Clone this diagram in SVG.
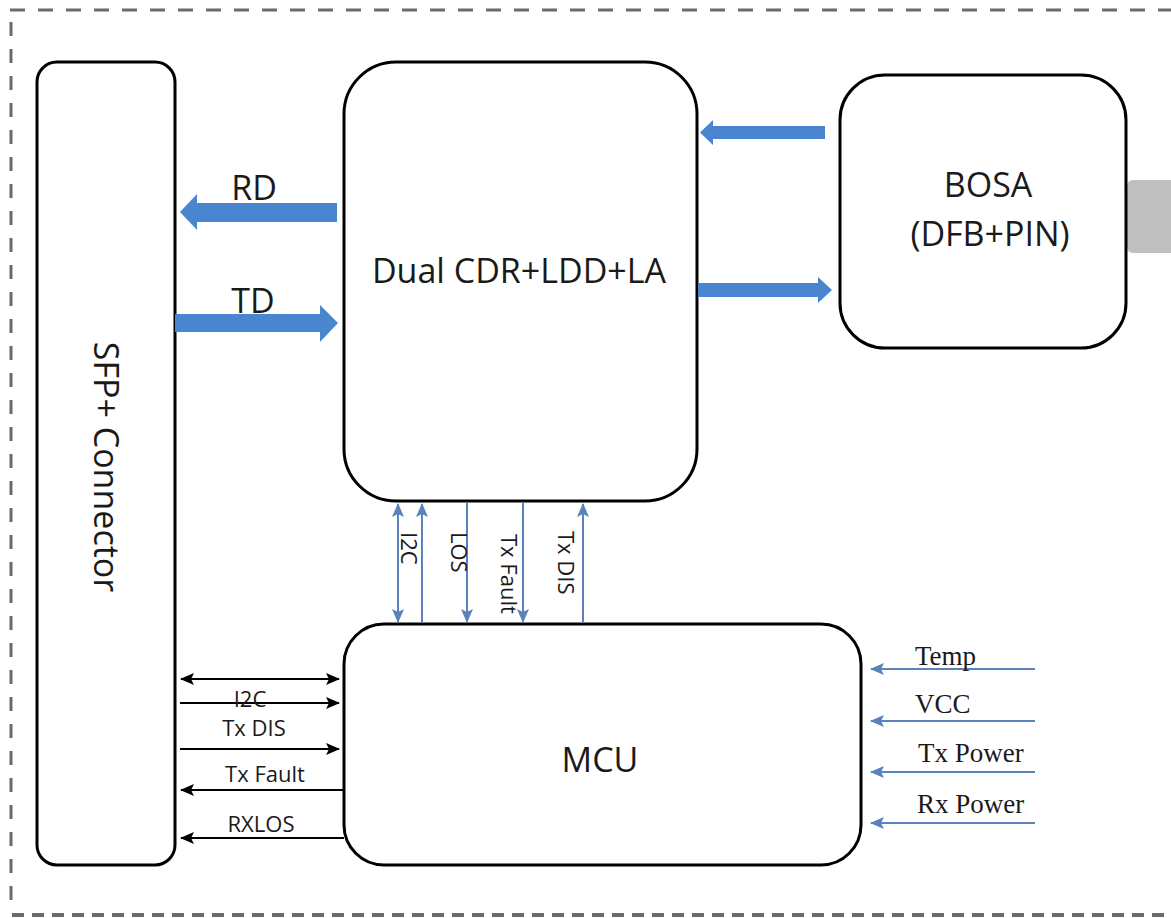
<svg xmlns="http://www.w3.org/2000/svg" width="1171" height="918" viewBox="0 0 1171 918">
<style>
.box{fill:#fff;stroke:#000;stroke-width:3}
.lbl{font-family:"Open Sans","DejaVu Sans",sans-serif;fill:#1a1a1a}
.big{font-size:34px}
.sm{font-size:22px}
.ser{font-family:"Liberation Serif","Times New Roman",serif;fill:#1a1a1a;font-size:27px}
.thick{fill:#4a86cf}
.bl{stroke:#000;stroke-width:2;fill:none}
.sb{stroke:#5a82bb;stroke-width:2;fill:none}
.border{stroke:#6b6b6b;fill:none}
</style>
<defs>
<marker id="ak" markerUnits="userSpaceOnUse" markerWidth="14" markerHeight="12" refX="13" refY="6" orient="auto-start-reverse">
<path d="M0,0 L14,6 L0,12 L3,6 z" fill="#000"/>
</marker>
<marker id="ab" markerUnits="userSpaceOnUse" markerWidth="14" markerHeight="12" refX="13" refY="6" orient="auto-start-reverse">
<path d="M0,0 L14,6 L0,12 L3,6 z" fill="#5a82bb"/>
</marker>
</defs>
<rect width="1171" height="918" fill="#fff"/>
<g id="border">
<line class="border" x1="10" y1="10" x2="1171" y2="10" stroke-width="3" stroke-dasharray="15 13"/>
<line class="border" x1="11" y1="22" x2="11" y2="905" stroke-width="3" stroke-dasharray="14 13"/>
<line class="border" x1="12" y1="915" x2="1171" y2="915" stroke-width="4" stroke-dasharray="12 8"/>
</g>
<g id="sfp">
<rect class="box" x="37" y="62" width="138" height="803" rx="20"/>
<text class="lbl" font-size="34" transform="translate(94,467) rotate(90)" text-anchor="middle">SFP+ Connector</text>
</g>
<g id="cdr">
<rect class="box" x="344" y="62" width="353" height="439" rx="52"/>
<text class="lbl big" x="519" y="283" text-anchor="middle">Dual CDR+LDD+LA</text>
</g>
<g id="bosa">
<rect x="1127" y="180" width="50" height="73" rx="6" fill="#bfbfbf"/>
<rect class="box" x="840" y="75" width="286" height="273" rx="45"/>
<text class="lbl big" x="988" y="197" text-anchor="middle">BOSA</text>
<text class="lbl big" x="990" y="246" text-anchor="middle">(DFB+PIN)</text>
</g>
<g id="mcu">
<rect class="box" x="344" y="624" width="517" height="241" rx="40"/>
<text class="lbl big" x="600" y="772" text-anchor="middle">MCU</text>
</g>
<g id="connectors">
<polygon class="thick" points="337,203 197,203 197,194 180,212 197,230 197,222 337,222"/>
<polygon class="thick" points="175,314 320,314 320,305 338,323 320,342 320,332 175,332"/>
<polygon class="thick" points="825,126 713,126 713,120 700,132.5 713,145 713,139 825,139"/>
<polygon class="thick" points="698,283 818,283 818,277 832,290 818,303 818,297 698,297"/>
<text class="lbl big" x="254" y="200" text-anchor="middle">RD</text>
<text class="lbl big" x="253" y="313" text-anchor="middle">TD</text>

<line class="sb" x1="398" y1="504" x2="398" y2="622" marker-start="url(#ab)" marker-end="url(#ab)"/>
<line class="sb" x1="422" y1="622" x2="422" y2="504" marker-end="url(#ab)"/>
<line class="sb" x1="467" y1="503" x2="467" y2="622" marker-end="url(#ab)"/>
<line class="sb" x1="523" y1="503" x2="523" y2="622" marker-end="url(#ab)"/>
<line class="sb" x1="583" y1="622" x2="583" y2="504" marker-end="url(#ab)"/>
<text class="lbl sm" transform="translate(401,532) rotate(90)">I2C</text>
<text class="lbl sm" transform="translate(451,532) rotate(90)">LOS</text>
<text class="lbl sm" transform="translate(501,534) rotate(90)">Tx Fault</text>
<text class="lbl sm" transform="translate(558,531) rotate(90)">Tx DIS</text>

<line class="bl" x1="181" y1="679" x2="339" y2="679" marker-start="url(#ak)" marker-end="url(#ak)"/>
<line class="bl" x1="180" y1="703" x2="339" y2="703" marker-end="url(#ak)"/>
<line class="bl" x1="180" y1="749" x2="339" y2="749" marker-end="url(#ak)"/>
<line class="bl" x1="344" y1="790" x2="181" y2="790" marker-end="url(#ak)"/>
<line class="bl" x1="344" y1="838" x2="181" y2="838" marker-end="url(#ak)"/>
<text class="lbl sm" x="250" y="707" text-anchor="middle">I2C</text>
<text class="lbl sm" x="254" y="736" text-anchor="middle">Tx DIS</text>
<text class="lbl sm" x="265" y="782" text-anchor="middle">Tx Fault</text>
<text class="lbl sm" x="261" y="832" text-anchor="middle">RXLOS</text>

<line class="sb" x1="1035" y1="669" x2="871" y2="669" marker-end="url(#ab)"/>
<line class="sb" x1="1035" y1="721" x2="871" y2="721" marker-end="url(#ab)"/>
<line class="sb" x1="1035" y1="772" x2="871" y2="772" marker-end="url(#ab)"/>
<line class="sb" x1="1035" y1="823" x2="871" y2="823" marker-end="url(#ab)"/>
<text class="ser" x="915" y="665">Temp</text>
<text class="ser" x="915" y="713">VCC</text>
<text class="ser" x="918" y="762">Tx Power</text>
<text class="ser" x="917" y="813">Rx Power</text>
</g>
</svg>
